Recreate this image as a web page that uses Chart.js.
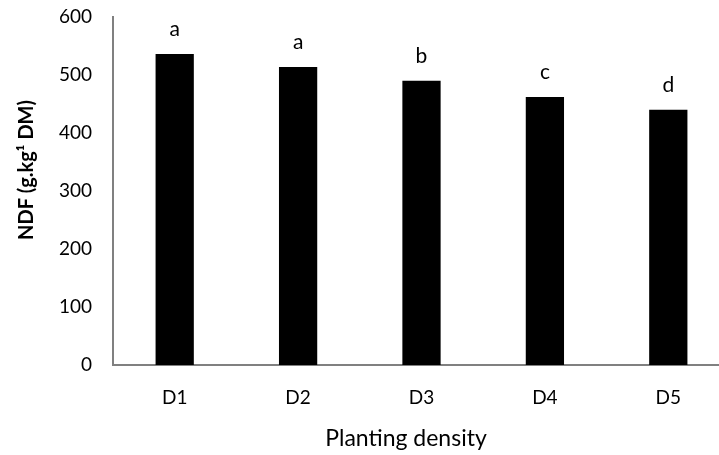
<!DOCTYPE html>
<html>
<head>
<meta charset="utf-8">
<script src="https://cdn.jsdelivr.net/npm/chart.js@4"></script>
<style>
  html, body { margin: 0; padding: 0; background: #fff; overflow: hidden; }
  #wrap { width: 735px; height: 455px; position: relative; }
</style>
</head>
<body>
<div id="wrap"><canvas id="ndf_chart"></canvas></div>
<script>
const densities = ["D1", "D2", "D3", "D4", "D5"];
const ndf_values = [536, 514, 490, 462, 440];
const sig_letters = ["a", "a", "b", "c", "d"];
const y_ticks = [0, 100, 200, 300, 400, 500, 600];
const y_title = "NDF (g.kg¹ DM)";
const x_title = "Planting density";

const FONT = "Lato, 'Open Sans', sans-serif";

// significance letters above each bar + both axis titles (the original is cropped on the right,
// so the titles sit a little off the plot centre)
const textPlugin = {
  id: "extraText",
  afterDatasetsDraw(chart) {
    const ctx = chart.ctx;
    const meta = chart.getDatasetMeta(0);
    ctx.save();
    ctx.fillStyle = "#000";
    ctx.font = "21px " + FONT;
    ctx.textAlign = "center";
    ctx.textBaseline = "alphabetic";
    meta.data.forEach((bar, i) => {
      ctx.fillText(sig_letters[i], bar.x, bar.y - 18);
    });

    ctx.font = "23px " + FONT;
    ctx.textBaseline = "middle";
    ctx.fillText(x_title, 406, 439);

    ctx.translate(27, 170);
    ctx.rotate(-Math.PI / 2);
    ctx.font = "bold 20px " + FONT;
    ctx.fillText(y_title, 0, 0);
    ctx.restore();
  },
};

const chart = new Chart(document.getElementById("ndf_chart"), {
  type: "bar",
  data: {
    labels: densities,
    datasets: [
      {
        data: ndf_values,
        backgroundColor: "#000",
        borderWidth: 0,
        barPercentage: 0.31,
        categoryPercentage: 1,
      },
    ],
  },
  options: {
    responsive: true,
    maintainAspectRatio: false,
    animation: false,
    layout: { padding: { top: 17, right: 5, left: 0, bottom: 0 } },
    plugins: {
      legend: { display: false },
      tooltip: { enabled: false },
    },
    scales: {
      x: {
        grid: { display: false, drawTicks: false },
        border: { color: "#808080", width: 2 },
        ticks: { color: "#000", font: { family: FONT, size: 19 }, padding: 21 },
        afterFit(scale) { scale.height = 90; },
      },
      y: {
        min: 0,
        max: 600,
        afterBuildTicks(scale) { scale.ticks = y_ticks.map((v) => ({ value: v })); },
        grid: { display: false, drawTicks: false },
        border: { color: "#808080", width: 2 },
        ticks: { color: "#000", font: { family: FONT, size: 19 }, padding: 21 },
        afterFit(scale) {
          scale.width = 113;
          scale.paddingTop = 0;
          scale.paddingBottom = 0;
        },
      },
    },
  },
  plugins: [textPlugin],
});
</script>
</body>
</html>
